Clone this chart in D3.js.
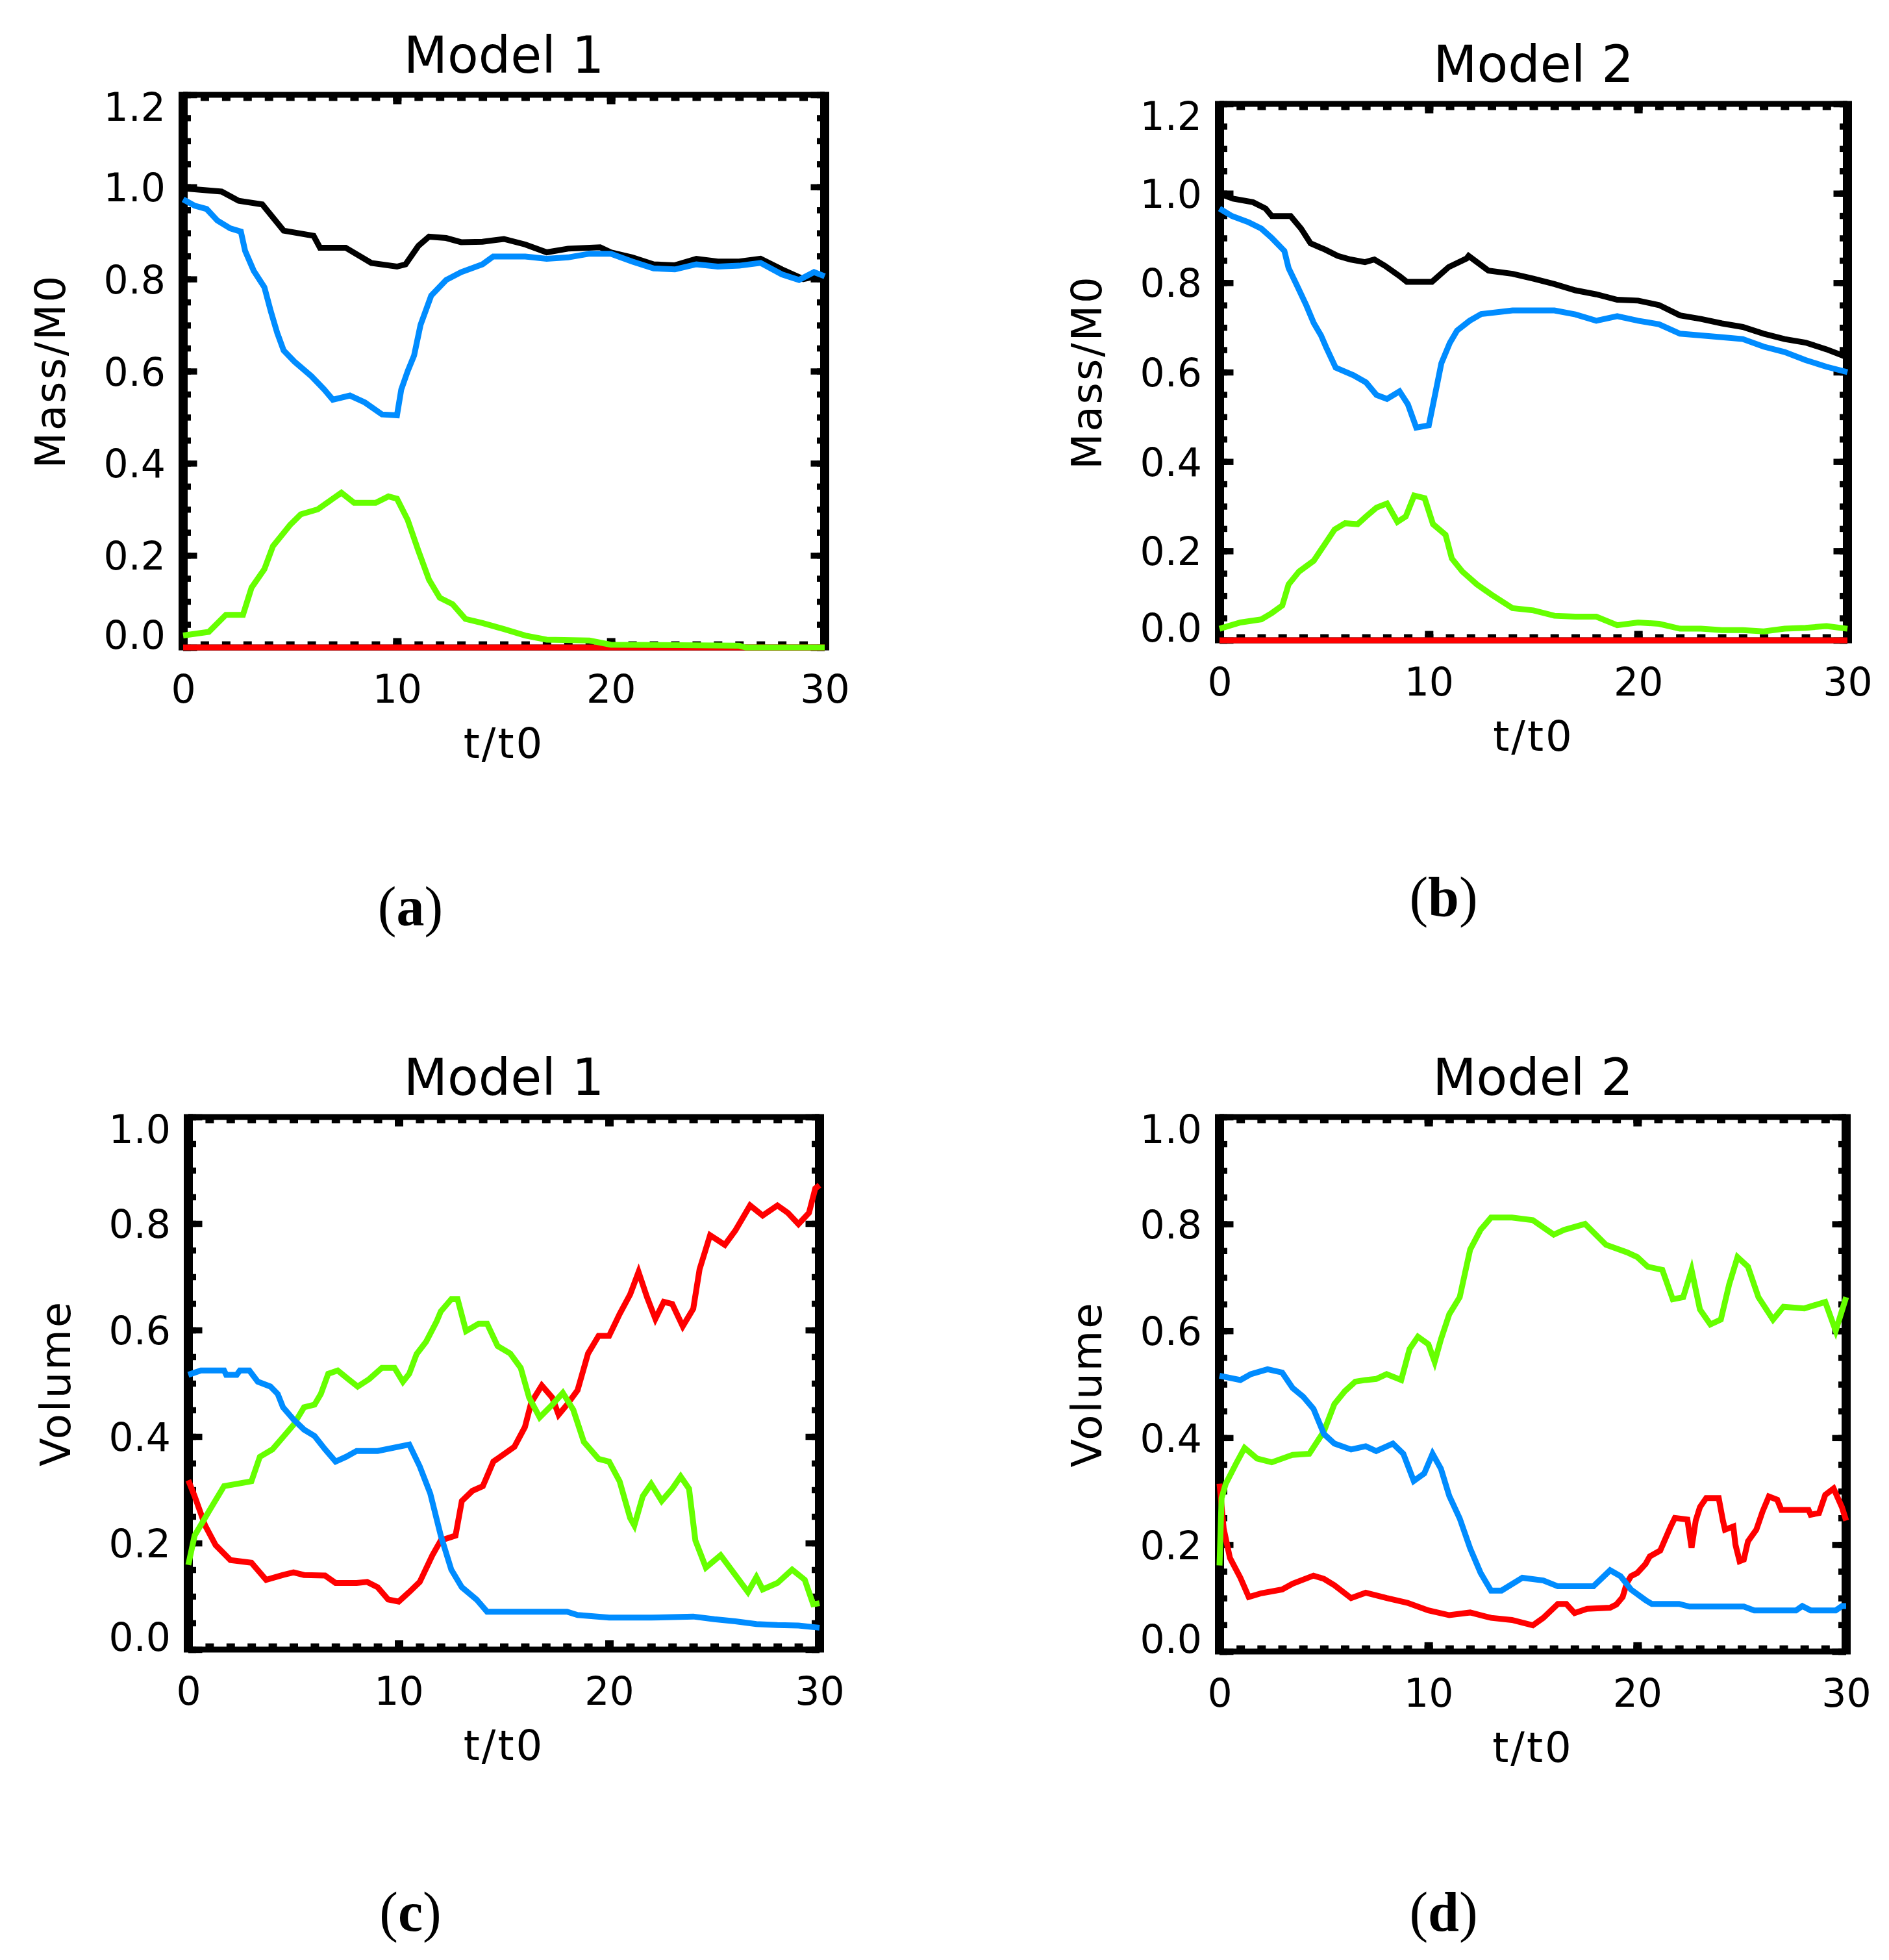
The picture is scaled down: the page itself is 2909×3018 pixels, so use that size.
<!DOCTYPE html>
<html>
<head>
<meta charset="utf-8">
<script src="https://cdnjs.cloudflare.com/ajax/libs/d3/7.8.5/d3.min.js"></script>
<style>
  body { margin: 0; background: #fff; }
  svg text { font-family: "DejaVu Sans", sans-serif; fill: #000; }
</style>
</head>
<body>
<div id="chart"></div>
<script>
// ---- data: [t/t0, value] ----
var xTicks = [0, 10, 20, 30];

// (a) Model 1, mass
var massTotal1 = [[0,0.997],[1.8,0.99],[2.6,0.97],[3.7,0.962],[4.7,0.905],[6.1,0.894],[6.4,0.868],[7.6,0.868],[8.8,0.835],[10,0.827],[10.4,0.832],[11,0.872],[11.5,0.892],[12.3,0.889],[13,0.88],[14,0.881],[15,0.887],[16,0.875],[17,0.858],[18,0.866],[19.5,0.869],[20,0.858],[21,0.847],[22,0.832],[23,0.83],[24,0.844],[25,0.838],[26,0.838],[27,0.844],[28,0.821],[29,0.80],[30,0.81]];
var massBlue1 = [[0,0.973],[0.55,0.959],[1.1,0.952],[1.6,0.927],[2.2,0.91],[2.7,0.903],[2.9,0.861],[3.3,0.818],[3.8,0.782],[4.1,0.73],[4.4,0.683],[4.7,0.645],[5.2,0.621],[6,0.589],[6.6,0.56],[7,0.538],[7.8,0.547],[8.5,0.532],[9.3,0.506],[10,0.504],[10.2,0.56],[10.5,0.6],[10.8,0.634],[11.1,0.7],[11.6,0.764],[12.3,0.798],[13,0.815],[14,0.832],[14.5,0.849],[16,0.849],[17,0.844],[18,0.847],[19,0.855],[20,0.855],[21,0.838],[22,0.823],[23,0.821],[24,0.832],[25,0.827],[26,0.829],[27,0.835],[28,0.81],[28.8,0.798],[29.5,0.815],[30,0.806]];
var massGreen1 = [[0,0.026],[1.2,0.034],[2,0.071],[2.8,0.071],[3.2,0.13],[3.8,0.17],[4.2,0.22],[5,0.266],[5.5,0.289],[6.3,0.30],[7,0.323],[7.4,0.336],[8,0.314],[9,0.314],[9.6,0.328],[10,0.323],[10.5,0.277],[11,0.21],[11.5,0.147],[12,0.108],[12.6,0.094],[13.2,0.062],[14,0.053],[15,0.04],[16,0.026],[17,0.017],[19,0.015],[20,0.006],[26,0.004],[26.3,0],[30,0]];
var massRed1 = [[0,0],[30,0]];

// (b) Model 2, mass
var massTotal2 = [[0,0.999],[0.65,0.988],[1.6,0.98],[2.2,0.966],[2.5,0.949],[3.4,0.949],[3.9,0.921],[4.35,0.888],[5.05,0.874],[5.65,0.86],[6.25,0.852],[6.95,0.846],[7.4,0.852],[7.9,0.838],[8.6,0.815],[8.95,0.802],[10.15,0.802],[10.95,0.835],[11.8,0.854],[11.9,0.86],[12.85,0.827],[14,0.82],[15,0.809],[16,0.797],[17,0.783],[18,0.774],[19,0.762],[20,0.76],[21,0.75],[22,0.727],[23,0.719],[24,0.709],[25,0.701],[26,0.686],[27,0.674],[28,0.666],[29,0.651],[30,0.633]];
var massBlue2 = [[0,0.966],[0.6,0.949],[1.4,0.935],[2,0.921],[2.5,0.9],[3.1,0.871],[3.3,0.833],[3.7,0.794],[4.15,0.749],[4.5,0.71],[4.85,0.682],[5.1,0.655],[5.55,0.61],[6.4,0.593],[7,0.577],[7.5,0.549],[8,0.54],[8.6,0.557],[9,0.528],[9.4,0.476],[10,0.481],[10.3,0.55],[10.6,0.62],[11,0.665],[11.35,0.693],[11.95,0.715],[12.5,0.73],[14,0.738],[16,0.738],[17,0.729],[18,0.715],[19,0.725],[20,0.715],[21,0.707],[22,0.686],[23,0.682],[24,0.678],[25,0.674],[26,0.657],[27,0.645],[28,0.627],[29,0.612],[30,0.60]];
var massGreen2 = [[0,0.026],[1,0.04],[2,0.047],[2.5,0.061],[3,0.078],[3.3,0.125],[3.8,0.154],[4.5,0.178],[5,0.213],[5.5,0.248],[6,0.262],[6.6,0.26],[7,0.277],[7.5,0.297],[8,0.306],[8.5,0.265],[8.9,0.277],[9.3,0.324],[9.8,0.318],[10.2,0.26],[10.8,0.236],[11.1,0.183],[11.6,0.154],[12.3,0.125],[13,0.102],[14,0.072],[15,0.067],[16,0.055],[17,0.053],[18,0.053],[19,0.034],[20,0.04],[21,0.037],[22,0.026],[23,0.026],[24,0.023],[25,0.023],[26,0.02],[27,0.026],[28,0.028],[29,0.032],[30,0.026]];
var massRed2 = [[0,0],[30,0]];

// (c) Model 1, volume
var volBlue1 = [[0,0.516],[0.6,0.524],[1.7,0.524],[1.8,0.516],[2.3,0.516],[2.45,0.524],[2.9,0.524],[3.3,0.503],[3.9,0.494],[4.25,0.48],[4.5,0.455],[5,0.432],[5.5,0.413],[6,0.401],[6.5,0.376],[7,0.353],[7.5,0.362],[8,0.373],[9,0.373],[10,0.381],[10.5,0.385],[11,0.344],[11.5,0.293],[12,0.214],[12.5,0.15],[13,0.117],[13.7,0.094],[14.2,0.071],[16,0.071],[18,0.071],[18.5,0.065],[20,0.06],[22,0.06],[24,0.062],[25,0.057],[26,0.053],[27,0.048],[28,0.046],[29,0.045],[30,0.041]];
var volRed1 = [[0,0.318],[0.3,0.288],[0.8,0.233],[1.3,0.196],[2,0.168],[3,0.163],[3.7,0.131],[4.5,0.14],[5,0.145],[5.5,0.14],[6.5,0.139],[7,0.125],[8,0.125],[8.5,0.127],[9,0.117],[9.5,0.094],[10,0.09],[10.5,0.108],[11,0.127],[11.6,0.177],[12,0.205],[12.7,0.214],[13,0.279],[13.5,0.298],[14,0.307],[14.5,0.353],[15,0.367],[15.5,0.381],[16,0.418],[16.3,0.464],[16.8,0.496],[17.3,0.473],[17.6,0.441],[18,0.46],[18.5,0.487],[19,0.556],[19.5,0.589],[20,0.589],[20.5,0.63],[21,0.667],[21.4,0.709],[21.8,0.662],[22.2,0.621],[22.6,0.653],[23,0.649],[23.5,0.607],[24,0.64],[24.3,0.714],[24.8,0.778],[25.5,0.76],[26,0.787],[26.7,0.834],[27.3,0.815],[28,0.834],[28.5,0.82],[29,0.799],[29.5,0.82],[29.8,0.866],[30,0.872]];
var volGreen1 = [[0,0.159],[0.3,0.214],[1,0.261],[1.7,0.307],[3,0.316],[3.4,0.362],[4,0.376],[4.5,0.399],[5,0.422],[5.5,0.455],[6,0.46],[6.3,0.48],[6.65,0.518],[7.1,0.524],[7.6,0.508],[8.05,0.494],[8.6,0.508],[9.2,0.529],[9.8,0.529],[10.2,0.503],[10.5,0.518],[10.85,0.555],[11.3,0.578],[11.8,0.616],[12,0.635],[12.5,0.658],[12.8,0.658],[13.2,0.598],[13.8,0.612],[14.2,0.612],[14.7,0.57],[15.3,0.556],[15.8,0.529],[16.2,0.473],[16.7,0.436],[17.3,0.46],[17.8,0.482],[18.3,0.45],[18.8,0.39],[19.5,0.358],[20,0.353],[20.5,0.316],[21,0.247],[21.2,0.233],[21.6,0.288],[22,0.311],[22.5,0.279],[23,0.302],[23.4,0.325],[23.8,0.302],[24.1,0.205],[24.6,0.154],[25.3,0.177],[26,0.14],[26.6,0.108],[27,0.136],[27.3,0.113],[28,0.125],[28.7,0.15],[29.3,0.131],[29.7,0.085],[30,0.087]];

// (d) Model 2, volume
var volBlue2 = [[0,0.516],[1,0.508],[1.5,0.519],[2.3,0.528],[3,0.522],[3.5,0.493],[4,0.477],[4.5,0.454],[5,0.407],[5.5,0.389],[6.3,0.378],[7,0.384],[7.5,0.375],[8.3,0.389],[8.8,0.37],[9.3,0.319],[9.8,0.333],[10.2,0.37],[10.6,0.342],[11,0.291],[11.5,0.249],[12,0.193],[12.5,0.147],[13,0.114],[13.5,0.114],[14.5,0.138],[15.5,0.133],[16.2,0.122],[17.9,0.122],[18.7,0.152],[19.2,0.141],[19.7,0.116],[20.4,0.096],[20.7,0.089],[22,0.089],[22.5,0.084],[25.1,0.084],[25.6,0.077],[27.6,0.077],[27.9,0.085],[28.3,0.077],[29.5,0.077],[29.8,0.085],[30,0.085]];
var volRed2 = [[0,0.314],[0.2,0.23],[0.5,0.175],[1,0.138],[1.4,0.102],[2,0.109],[3,0.116],[3.5,0.127],[4.5,0.142],[5,0.136],[5.5,0.124],[6.3,0.10],[7,0.11],[8,0.10],[9,0.091],[10,0.077],[11,0.068],[12,0.073],[13,0.063],[14,0.059],[15,0.049],[15.5,0.063],[16.2,0.089],[16.6,0.089],[17,0.072],[17.6,0.08],[18.7,0.082],[19,0.088],[19.3,0.102],[19.5,0.128],[19.7,0.141],[20,0.147],[20.4,0.164],[20.6,0.178],[21.1,0.189],[21.6,0.234],[21.8,0.25],[22.4,0.247],[22.6,0.194],[22.8,0.245],[23,0.27],[23.3,0.287],[23.9,0.287],[24.1,0.245],[24.2,0.228],[24.6,0.234],[24.7,0.2],[24.9,0.169],[25.1,0.172],[25.3,0.206],[25.7,0.228],[26,0.262],[26.3,0.29],[26.7,0.284],[26.9,0.265],[28.2,0.265],[28.3,0.256],[28.7,0.259],[29,0.293],[29.4,0.305],[29.8,0.27],[30,0.245]];
var volGreen2 = [[0,0.161],[0.1,0.287],[0.3,0.314],[0.8,0.352],[1.2,0.381],[1.8,0.361],[2.5,0.354],[3.5,0.368],[4.3,0.37],[5,0.412],[5.5,0.463],[6,0.487],[6.5,0.505],[7,0.508],[7.5,0.51],[8,0.519],[8.7,0.508],[9.1,0.566],[9.5,0.589],[10,0.575],[10.3,0.542],[10.6,0.584],[11,0.631],[11.5,0.663],[12,0.752],[12.5,0.789],[13,0.812],[14,0.812],[15,0.807],[16,0.78],[16.5,0.789],[17.5,0.80],[18.5,0.761],[19.5,0.747],[20,0.738],[20.5,0.72],[21.2,0.714],[21.7,0.659],[22.2,0.663],[22.6,0.714],[23,0.64],[23.5,0.612],[24,0.621],[24.4,0.687],[24.8,0.738],[25.3,0.72],[25.8,0.663],[26.5,0.621],[27,0.645],[28,0.642],[29,0.654],[29.5,0.60],[30,0.663]];

var BLACK = "#000000", BLUE = "#008cff", GREEN = "#66ff00", RED = "#ff0000";

var panels = [
  {tag: "a", title: "Model 1", ylab: "Mass/M0", ymax: 1.2, x0: 282, x1: 1270, yt: 146, yb: 997, tagX: 632, tagY: 1425,
   series: [[massTotal1, BLACK], [massBlue1, BLUE], [massRed1, RED], [massGreen1, GREEN]]},
  {tag: "b", title: "Model 2", ylab: "Mass/M0", ymax: 1.2, x0: 1878, x1: 2845, yt: 160, yb: 986, tagX: 2223, tagY: 1410,
   series: [[massTotal2, BLACK], [massBlue2, BLUE], [massRed2, RED], [massGreen2, GREEN]]},
  {tag: "c", title: "Model 1", ylab: "Volume", ymax: 1.0, x0: 290, x1: 1262, yt: 1720, yb: 2540, tagX: 632, tagY: 2973,
   series: [[volRed1, RED], [volGreen1, GREEN], [volBlue1, BLUE]]},
  {tag: "d", title: "Model 2", ylab: "Volume", ymax: 1.0, x0: 1878, x1: 2843, yt: 1720, yb: 2543, tagX: 2223, tagY: 2973,
   series: [[volRed2, RED], [volGreen2, GREEN], [volBlue2, BLUE]]}
];

var svg = d3.select("#chart").append("svg")
  .attr("width", 2909)
  .attr("height", 3018);

function styleTicks(sel, width) {
  sel.select(".domain").remove();
  sel.selectAll(".tick line").attr("stroke", "#000").attr("stroke-width", width);
}

function drawPanel(p) {
  var g = svg.append("g");
  var x = d3.scaleLinear().domain([0, 30]).range([p.x0, p.x1]);
  var y = d3.scaleLinear().domain([0, p.ymax]).range([p.yb, p.yt]);

  var xMinor = d3.range(0, 31, 1);
  var yMajor = d3.range(0, Math.round(p.ymax / 0.2) + 1).map(function(i) { return i * 0.2; });
  var yMinor = d3.range(0, Math.round(p.ymax / 0.05) + 1).map(function(i) { return i * 0.05; });

  // frame: sides thicker than top/bottom, like the IDL plot
  g.append("line").attr("x1", p.x0).attr("x2", p.x1).attr("y1", p.yb).attr("y2", p.yb)
    .attr("stroke", "#000").attr("stroke-width", 9);
  g.append("line").attr("x1", p.x0).attr("x2", p.x1).attr("y1", p.yt).attr("y2", p.yt)
    .attr("stroke", "#000").attr("stroke-width", 9);
  g.append("line").attr("x1", p.x0).attr("x2", p.x0).attr("y1", p.yt - 4.5).attr("y2", p.yb + 4.5)
    .attr("stroke", "#000").attr("stroke-width", 14);
  g.append("line").attr("x1", p.x1).attr("x2", p.x1).attr("y1", p.yt - 4.5).attr("y2", p.yb + 4.5)
    .attr("stroke", "#000").attr("stroke-width", 14);

  // inward ticks on all four sides
  g.append("g").attr("transform", "translate(0," + p.yb + ")")
    .call(d3.axisBottom(x).tickValues(xMinor).tickSize(-9.5).tickFormat(""))
    .call(styleTicks, 13);
  g.append("g").attr("transform", "translate(0," + p.yb + ")")
    .call(d3.axisBottom(x).tickValues(xTicks).tickSize(-14.5).tickFormat(""))
    .call(styleTicks, 13);
  g.append("g").attr("transform", "translate(0," + p.yt + ")")
    .call(d3.axisTop(x).tickValues(xMinor).tickSize(-9.5).tickFormat(""))
    .call(styleTicks, 13);
  g.append("g").attr("transform", "translate(0," + p.yt + ")")
    .call(d3.axisTop(x).tickValues(xTicks).tickSize(-14.5).tickFormat(""))
    .call(styleTicks, 13);
  g.append("g").attr("transform", "translate(" + p.x0 + ",0)")
    .call(d3.axisLeft(y).tickValues(yMinor).tickSize(-12).tickFormat(""))
    .call(styleTicks, 9.5);
  g.append("g").attr("transform", "translate(" + p.x0 + ",0)")
    .call(d3.axisLeft(y).tickValues(yMajor).tickSize(-21.5).tickFormat(""))
    .call(styleTicks, 9.5);
  g.append("g").attr("transform", "translate(" + p.x1 + ",0)")
    .call(d3.axisRight(y).tickValues(yMinor).tickSize(-12).tickFormat(""))
    .call(styleTicks, 9.5);
  g.append("g").attr("transform", "translate(" + p.x1 + ",0)")
    .call(d3.axisRight(y).tickValues(yMajor).tickSize(-21.5).tickFormat(""))
    .call(styleTicks, 9.5);

  // tick labels
  var yl = g.append("g").attr("transform", "translate(" + p.x0 + ",0)")
    .call(d3.axisLeft(y).tickValues(yMajor).tickSize(0).tickPadding(27).tickFormat(d3.format(".1f")));
  yl.select(".domain").remove();
  yl.attr("font-family", null).attr("font-size", null);
  var last = yMajor.length - 1;
  yl.selectAll(".tick text")
    .attr("font-size", 60)
    .attr("dy", "0.36em")
    .attr("y", function(d, i) { return i === 0 ? -20 : (i === last ? 18 : 0); });

  var xl = g.append("g").attr("transform", "translate(0," + p.yb + ")")
    .call(d3.axisBottom(x).tickValues(xTicks).tickSize(0).tickPadding(42).tickFormat(d3.format("d")));
  xl.select(".domain").remove();
  xl.attr("font-family", null).attr("font-size", null);
  xl.selectAll(".tick text").attr("font-size", 60);

  // titles
  var cx = (p.x0 + p.x1) / 2, cy = (p.yt + p.yb) / 2;
  g.append("text").attr("x", cx).attr("y", p.yt - 34)
    .attr("text-anchor", "middle").attr("font-size", 78).text(p.title);
  g.append("text").attr("x", cx).attr("y", p.yb + 170)
    .attr("text-anchor", "middle").attr("font-size", 64).attr("letter-spacing", 3).text("t/t0");
  g.append("text")
    .attr("transform", "translate(" + (p.x0 - 182) + "," + cy + ") rotate(-90)")
    .attr("text-anchor", "middle").attr("font-size", 64).attr("letter-spacing", 3).text(p.ylab);

  // data lines
  var line = d3.line().x(function(d) { return x(d[0]); }).y(function(d) { return y(d[1]); });
  p.series.forEach(function(s) {
    g.append("path").datum(s[0])
      .attr("d", line)
      .attr("fill", "none")
      .attr("stroke", s[1])
      .attr("stroke-width", 9)
      .attr("stroke-linejoin", "miter")
      .attr("stroke-linecap", "butt");
  });

  // panel letter
  var tg = svg.append("text").attr("x", p.tagX).attr("y", p.tagY)
    .attr("text-anchor", "middle")
    .style("font-family", "'Liberation Serif', 'Times New Roman', serif")
    .attr("font-size", 86);
  tg.append("tspan").text("(");
  tg.append("tspan").attr("font-weight", "bold").text(p.tag);
  tg.append("tspan").text(")");
}

panels.forEach(drawPanel);
</script>
</body>
</html>
